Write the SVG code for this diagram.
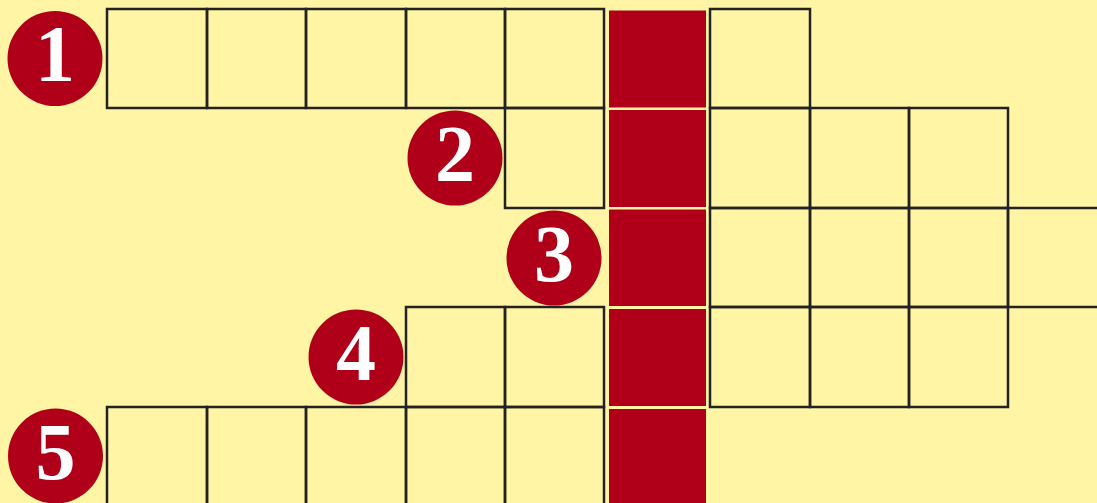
<svg xmlns="http://www.w3.org/2000/svg" width="1097" height="503" viewBox="0 0 1097 503">
<style>
.bg{fill:#fff5a5}
.cell{fill:none;stroke:#232323;stroke-width:2.5}
.key{fill:#b00019}
.badge{fill:#b00019}
.num{fill:#ffffff;font-family:"Liberation Serif",serif;font-weight:bold;font-size:80px;text-anchor:middle}
</style>
<rect class="bg" x="0" y="0" width="1097" height="503"/>
<g id="grid">
  <g id="row1">
    <rect class="cell" x="107" y="9" width="100" height="99"/>
    <rect class="cell" x="207" y="9" width="99" height="99"/>
    <rect class="cell" x="306" y="9" width="100" height="99"/>
    <rect class="cell" x="406" y="9" width="99" height="99"/>
    <rect class="cell" x="505" y="9" width="99" height="99"/>
    <rect class="cell" x="710" y="9" width="100" height="99"/>
  </g>
  <g id="row2">
    <rect class="cell" x="505" y="108" width="99" height="100"/>
    <rect class="cell" x="710" y="108" width="100" height="100"/>
    <rect class="cell" x="810" y="108" width="99" height="100"/>
    <rect class="cell" x="909" y="108" width="99" height="100"/>
  </g>
  <g id="row3">
    <rect class="cell" x="710" y="208" width="100" height="99"/>
    <rect class="cell" x="810" y="208" width="99" height="99"/>
    <rect class="cell" x="909" y="208" width="99" height="99"/>
    <rect class="cell" x="1008" y="208" width="100" height="99"/>
  </g>
  <g id="row4">
    <rect class="cell" x="406" y="307" width="99" height="100"/>
    <rect class="cell" x="505" y="307" width="99" height="100"/>
    <rect class="cell" x="710" y="307" width="100" height="100"/>
    <rect class="cell" x="810" y="307" width="99" height="100"/>
    <rect class="cell" x="909" y="307" width="99" height="100"/>
  </g>
  <g id="row5">
    <rect class="cell" x="107" y="407" width="100" height="110"/>
    <rect class="cell" x="207" y="407" width="99" height="110"/>
    <rect class="cell" x="306" y="407" width="100" height="110"/>
    <rect class="cell" x="406" y="407" width="99" height="110"/>
    <rect class="cell" x="505" y="407" width="99" height="110"/>
  </g>
</g>
<g id="keyword-column">
  <rect class="key" x="609" y="10.5" width="97" height="97"/>
  <rect class="key" x="609" y="110" width="97" height="97"/>
  <rect class="key" x="609" y="209.5" width="97" height="96.5"/>
  <rect class="key" x="609" y="309" width="97" height="97"/>
  <rect class="key" x="609" y="409" width="97" height="100"/>
</g>
<g id="badge1"><circle class="badge" cx="55" cy="58.5" r="47.5"/><text class="num" x="55" y="81">1</text></g>
<g id="badge2"><circle class="badge" cx="455" cy="158" r="47.5"/><text class="num" x="455" y="181">2</text></g>
<g id="badge3"><circle class="badge" cx="554" cy="258" r="47.5"/><text class="num" x="554" y="281">3</text></g>
<g id="badge4"><circle class="badge" cx="356" cy="357" r="47.5"/><text class="num" x="356" y="380">4</text></g>
<g id="badge5"><circle class="badge" cx="55.5" cy="456" r="47.5"/><text class="num" x="55.5" y="479">5</text></g>
</svg>
